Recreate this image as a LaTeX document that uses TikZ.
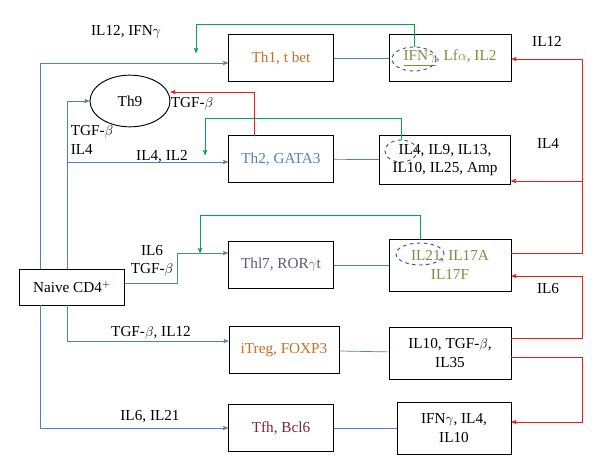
\documentclass[tikz,border=0pt]{standalone}
\usepackage{fontspec}
\setmainfont{Liberation Serif}
\usetikzlibrary{calc, shapes, arrows}

\definecolor{bl}{RGB}{79,129,189}
\definecolor{gr}{RGB}{0,166,81}
\definecolor{rd}{RGB}{232,30,30}
\definecolor{org}{RGB}{197,110,40}
\definecolor{olv}{RGB}{118,146,60}
\definecolor{prp}{RGB}{96,86,118}
\definecolor{drd}{RGB}{120,40,55}

\begin{document}
\begin{tikzpicture}[x=0.03cm, y=-0.03cm, >=stealth', semithick, every node/.style={font=\fontsize{13}{15.5}\selectfont}]
\tikzstyle{box}=[draw=black, thick, rectangle, minimum width=3.15cm, minimum height=1.4cm, align=center, inner sep=1pt]
\tikzstyle{fb}=[bl, ->]
\tikzstyle{fg}=[gr, ->]
\tikzstyle{fr}=[rd, ->]
\tikzstyle{ring}=[draw=bl!70!black, dashed, thick, ellipse]
\useasboundingbox (0,0) rectangle (600,475);

\node[box, text=org]   (T1)  at (281,58)  {Th1, t bet};
\node[box, text=olv, minimum width=3.66cm] (O1) at (450,58) {\underline{IFN$\gamma$}, Lf$\alpha$, IL2};
\node[draw, thick, ellipse, minimum width=2.4cm, minimum height=1.55cm] (T9) at (130,101) {Th9};
\node[box, text=bl]    (T2)  at (281,159) {Th2, GATA3};
\node[box, minimum width=3.93cm, minimum height=1.47cm] (O2) at (445,160) {IL4, IL9, IL13,\\IL10, IL25, Amp};
\node[box, text=prp]   (T17) at (281,265) {Thl7, ROR$\gamma$t};
\node[box, text=olv, minimum width=3.66cm, minimum height=1.56cm] (O3) at (450,265) {IL21, IL17A\\IL17F};
\node[draw=black, thick, minimum width=3.15cm, minimum height=1.08cm] (N) at (72,287) {Naive CD4$^+$};
\node[box, text=org, minimum width=3.3cm] (TR) at (284,350) {iTreg, FOXP3};
\node[box, minimum width=3.66cm, minimum height=1.56cm] (O4) at (450,353) {IL10, TGF-$\beta$,\\IL35};
\node[box, text=drd]   (TF)  at (281,428) {Tfh, Bcl6};
\node[box, minimum width=3.42cm, minimum height=1.56cm] (O5) at (454,428) {IFN$\gamma$, IL4,\\IL10};

% dashed marks
\node[ring, minimum width=1.32cm, minimum height=0.72cm] (R1) at (414,59) {};
\node[ring, minimum width=0.96cm, minimum height=0.66cm] (R2) at (401,151) {};
\node[ring, minimum width=1.44cm, minimum height=0.66cm] (R3) at (420,254) {};

% naive to subsets
\draw[fb] ([xshift=-27]N.north) |- (T1.west|-0,63);
\draw[fb] ([xshift=-27]N.south) |- (TF.west);
\draw[fb] ([xshift=-4]N.north) |- (T9.west);
\draw[fb] (68,162) -- (T2.west|-0,162);
\draw[fb] ([xshift=-4]N.south) |- (TR.west|-0,341);
\draw[fb] (N.east|-0,283) -- (177,283) |- (T17.west|-0,253);

% subsets to cytokines
\draw[bl] (T1) -- (O1);
\draw[bl] (T2) -- (O2);
\draw[bl] (T17) -- (O3);
\draw[bl] (TR) -- (O4);
\draw[bl] (TF) -- (O5);

% feedback
\draw[fg] (R1.north) |- (196,24) -- (196,53);
\draw[fg] (R2.north) |- (205,118) -- (205,155);
\draw[fg] (O3.north-|R3) |- (200,215) -- (200,253);
\draw[fr] (254,136) |- (T9.east|-0,92);

\draw[fr] (O3.east|-0,253) -| (582,59) -- (O1.east|-0,59);
\draw[fr] (582,181) -- (O2.east|-0,181);
\draw[fr] (O4.east|-0,338) -| (582,276) -- (O3.east|-0,276);
\draw[fr] (O4.east|-0,357) -| (582,422) -- (O5.east|-0,422);

% labels
\node (l1) at (126,32) {IL12, IFN$\gamma$};
\node[align=left] (l2) at (92,140) {TGF-$\beta$\\IL4};
\node (l3) at (162,157) {IL4, IL2};
\node (l4) at (192,104) {TGF-$\beta$};
\node (l5) at (547,41) {IL12};
\node (l6) at (548,143) {IL4};
\node[align=center] (l7) at (152,261) {IL6\\TGF-$\beta$};
\node (l8) at (548,289) {IL6};
\node (l9) at (151,333) {TGF-$\beta$, IL12};
\node (l10) at (150,417) {IL6, IL21};
\end{tikzpicture}
\end{document}
